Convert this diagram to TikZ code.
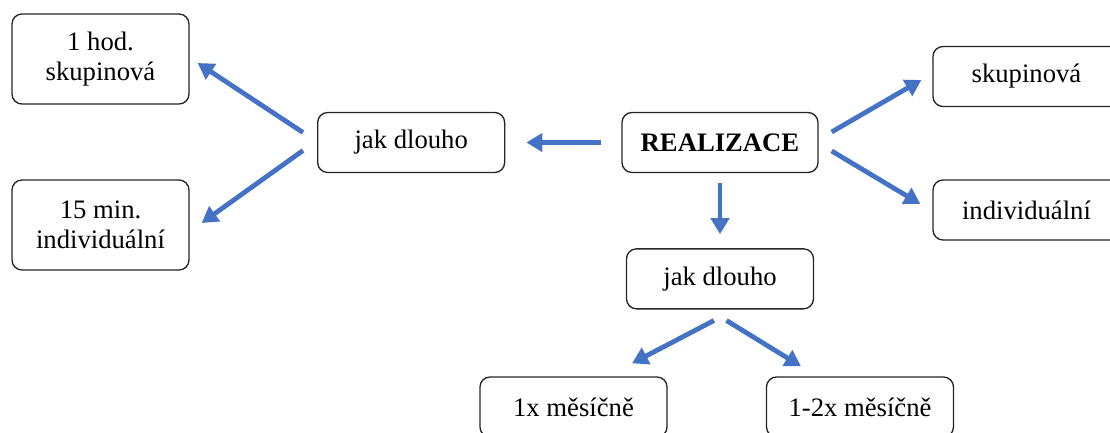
\documentclass[tikz,border=0pt]{standalone}
\usepackage{fontspec}
\setmainfont{Liberation Serif}
\usepackage{xcolor}
\usetikzlibrary{calc, positioning, arrows.meta}
\definecolor{arrowblue}{RGB}{68,114,196}
\tikzset{
    box/.style={rectangle, draw=black!85, line width=1pt, rounded corners=7.5pt, fill=white, align=center, minimum width=140.25pt, minimum height=45pt, inner sep=2pt, font=\fontsize{20}{22.5}\selectfont},
    tallbox/.style={box, minimum width=132.75pt, minimum height=67.5pt},
    arrow/.style={-{Triangle[length=12pt, width=13.5pt]}, line width=3.6pt, draw=arrowblue}
}
\begin{document}
\begin{tikzpicture}[x=0.75pt, y=-0.75pt]
        \clip (0,0) rectangle (1110,432);

        % Centre
        \node[box, minimum width=147pt, font=\fontsize{20}{22.5}\selectfont\bfseries] (real) at (720,142.5) {REALIZACE};
        \node[box, left=87pt of real] (jakL) {jak dlouho};
        \node[box, below=56.25pt of real] (jakB) {jak dlouho};

        % Left side
        \node[tallbox] (hod) at (100.5,59) {1 hod.\\skupinová};
        \node[tallbox] (min) at (100.5,225) {15 min.\\individuální};

        % Right side
        \node[box] (skup) at (1026.5,76.5) {skupinová};
        \node[box] (indiv) at (1026.5,210) {individuální};

        % Bottom
        \node[box] (mes1) at (573.5,407) {1x měsíčně};
        \node[box] (mes2) at (860,407) {1-2x měsíčně};

        % Edges
        \draw[arrow, shorten <=15pt, shorten >=15.75pt] (real.west) -- (jakL.east);
        \draw[arrow] ($(jakL.west)+(-14,-10)$) -- ($(hod.east)+(8,4)$);
        \draw[arrow] ($(jakL.west)+(-14,8)$) -- ($(min.east)+(12,-2)$);
        \draw[arrow] ($(real.east)+(13,-10.5)$) -- ($(skup.west)+(-11,3.5)$);
        \draw[arrow] ($(real.east)+(13,8.5)$) -- ($(indiv.west)+(-12,-6)$);
        \draw[arrow, shorten <=7.5pt, shorten >=10.5pt] (real.south -| jakB.north) -- (jakB.north);
        \draw[arrow] ($(jakB.south)+(-6,11)$) -- ($(mes1.north)+(58.5,-13)$);
        \draw[arrow] ($(jakB.south)+(6.5,11)$) -- ($(mes2.north)+(-59,-10)$);

    \end{tikzpicture}
\end{document}
